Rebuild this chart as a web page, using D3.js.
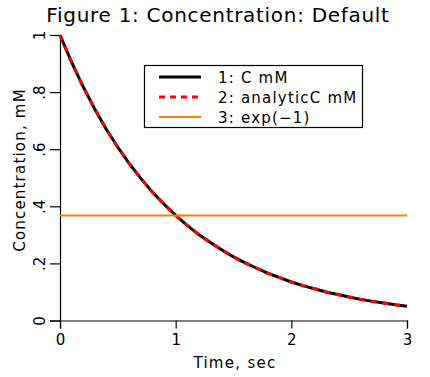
<!DOCTYPE html>
<html>
<head>
<meta charset="utf-8">
<script src="https://cdn.jsdelivr.net/npm/d3@7"></script>
<style>
  body { margin: 0; background: #fff; }
  text { font-family: "DejaVu Sans", sans-serif; fill: #000; }
</style>
</head>
<body>
<div id="chart"></div>
<script>
// values
const times = [0, 0.1, 0.2, 0.3, 0.4, 0.5, 0.6, 0.7, 0.8, 0.9, 1.0,
  1.1, 1.2, 1.3, 1.4, 1.5, 1.6, 1.7, 1.8, 1.9, 2.0,
  2.1, 2.2, 2.3, 2.4, 2.5, 2.6, 2.7, 2.8, 2.9, 3.0];
const concC = [1, 0.905, 0.819, 0.741, 0.670, 0.607, 0.549, 0.497, 0.449, 0.407, 0.368,
  0.333, 0.301, 0.273, 0.247, 0.223, 0.202, 0.183, 0.165, 0.150, 0.135,
  0.122, 0.111, 0.100, 0.091, 0.082, 0.074, 0.067, 0.061, 0.055, 0.050];
const analyticC = [1, 0.905, 0.819, 0.741, 0.670, 0.607, 0.549, 0.497, 0.449, 0.407, 0.368,
  0.333, 0.301, 0.273, 0.247, 0.223, 0.202, 0.183, 0.165, 0.150, 0.135,
  0.122, 0.111, 0.100, 0.091, 0.082, 0.074, 0.067, 0.061, 0.055, 0.050];
const expLevel = 0.368;
const xTicks = [0, 1, 2, 3];
const yTicks = [0, 0.2, 0.4, 0.6, 0.8, 1];
const yTickLabels = ['0', '.2', '.4', '.6', '.8', '1'];
const legendLabels = ['1: C mM', '2: analyticC mM', '3: exp(\u22121)'];

const width = 430, height = 377;
const margin = {left: 60, right: 23, top: 35, bottom: 56.5};

const svg = d3.select('#chart').append('svg')
  .attr('width', width)
  .attr('height', height);

const x = d3.scaleLinear().domain([0, 3]).range([margin.left, width - margin.right]);
const y = d3.scaleLinear().domain([0, 1]).range([height - margin.bottom, margin.top]);

// title
svg.append('text')
  .attr('x', 218).attr('y', 22)
  .attr('text-anchor', 'middle')
  .style('font-size', '20px')
  .style('letter-spacing', '0.7px')
  .text('Figure 1: Concentration: Default');

// x axis
const xAxis = svg.append('g')
  .attr('transform', `translate(0,${y(0)})`)
  .call(d3.axisBottom(x).tickValues(xTicks).tickFormat(d3.format('d')).tickSize(8).tickPadding(6));
xAxis.select('.domain').attr('stroke', '#000').attr('stroke-width', 1.2);
xAxis.selectAll('.tick line').attr('stroke-width', 1.2);
xAxis.selectAll('.tick text').style('font-size', '15px').style('font-family', '"DejaVu Sans", sans-serif');

// y axis, labels turned sideways
const yAxis = svg.append('g')
  .attr('transform', `translate(${x(0)},0)`)
  .call(d3.axisLeft(y).tickValues(yTicks).tickFormat((d, i) => yTickLabels[i]).tickSize(10));
yAxis.select('.domain').attr('stroke', '#000').attr('stroke-width', 1.2);
yAxis.selectAll('.tick line').attr('stroke-width', 1.2);
yAxis.selectAll('.tick text')
  .style('font-size', '15px')
  .style('font-family', '"DejaVu Sans", sans-serif')
  .attr('x', 0).attr('dy', 0)
  .attr('text-anchor', 'middle')
  .attr('transform', 'translate(-15,0) rotate(-90)');

// axis titles
svg.append('text')
  .attr('x', 235).attr('y', 368)
  .attr('text-anchor', 'middle')
  .style('font-size', '15px')
  .style('letter-spacing', '1.3px')
  .text('Time, sec');

svg.append('text')
  .attr('transform', 'translate(25,170) rotate(-90)')
  .attr('text-anchor', 'middle')
  .style('font-size', '15px')
  .style('letter-spacing', '1.2px')
  .text('Concentration, mM');

// series
const line = d3.line()
  .x((d, i) => x(times[i]))
  .y(d => y(d));

svg.append('path')
  .datum(concC)
  .attr('fill', 'none')
  .attr('stroke', '#000')
  .attr('stroke-width', 3)
  .attr('d', line);

svg.append('path')
  .datum(analyticC)
  .attr('fill', 'none')
  .attr('stroke', '#ff0000')
  .attr('stroke-width', 3)
  .attr('stroke-dasharray', '6,6')
  .attr('d', line);

svg.append('line')
  .attr('x1', x(0)).attr('x2', x(3))
  .attr('y1', y(expLevel)).attr('y2', y(expLevel))
  .attr('stroke', '#ff8000')
  .attr('stroke-width', 2);

// legend
const legend = svg.append('g');
legend.append('rect')
  .attr('x', 144.5).attr('y', 65.5)
  .attr('width', 218).attr('height', 62)
  .attr('fill', '#fff')
  .attr('stroke', '#000')
  .attr('stroke-width', 1.2);

const legendStyles = [
  {stroke: '#000', width: 3, dash: null},
  {stroke: '#ff0000', width: 3, dash: '6,5'},
  {stroke: '#ff8000', width: 2, dash: null}
];

legendLabels.forEach((lab, i) => {
  const ly = 77 + i * 20;
  legend.append('line')
    .attr('x1', 159).attr('x2', 201)
    .attr('y1', ly).attr('y2', ly)
    .attr('stroke', legendStyles[i].stroke)
    .attr('stroke-width', legendStyles[i].width)
    .attr('stroke-dasharray', legendStyles[i].dash);
  legend.append('text')
    .attr('x', 218).attr('y', ly + 5.5)
    .style('font-size', '15px')
    .style('letter-spacing', '1.2px')
    .text(lab);
});
</script>
</body>
</html>
